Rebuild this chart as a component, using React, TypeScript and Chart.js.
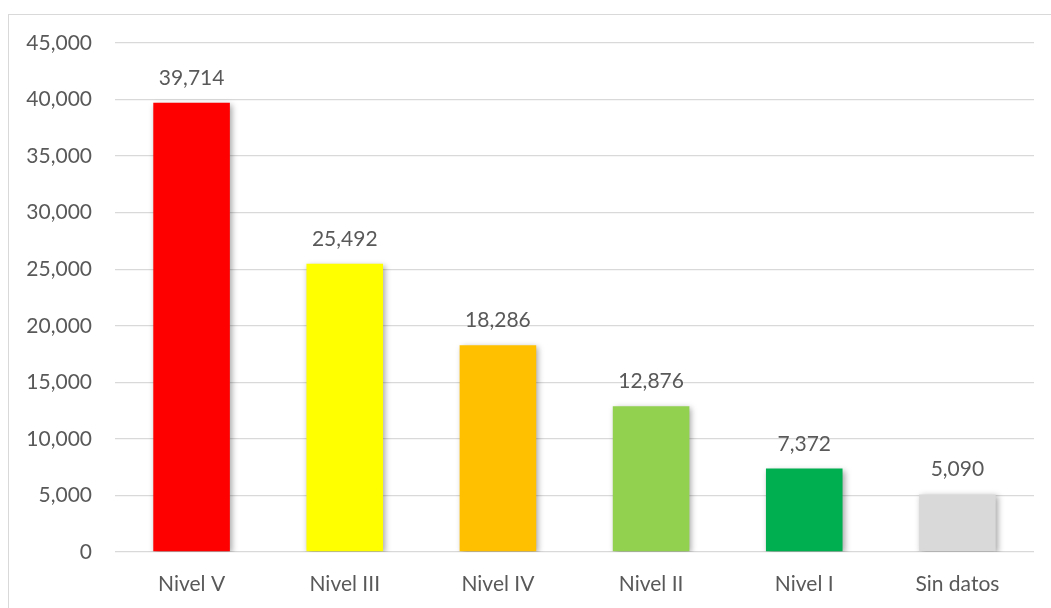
import React, { useEffect, useRef } from "react";
import { Chart, registerables } from "chart.js";

Chart.register(...registerables);

const categories = ["Nivel V", "Nivel III", "Nivel IV", "Nivel II", "Nivel I", "Sin datos"];
const values = [39714, 25492, 18286, 12876, 7372, 5090];
const barColors = ["#FF0000", "#FFFF00", "#FFC000", "#92D050", "#00B050", "#D9D9D9"];

const FONT = "Lato, 'Open Sans', sans-serif";
const TEXT = "#595959";
const fmt = (v: number) => v.toLocaleString("en-US");

// Outer frame of the chart box
const framePlugin = {
  id: "frame",
  beforeDraw(chart: any) {
    const ctx = chart.ctx;
    ctx.save();
    ctx.fillStyle = "#ffffff";
    ctx.fillRect(0, 0, chart.width, chart.height);
    ctx.strokeStyle = "#d9d9d9";
    ctx.lineWidth = 1;
    ctx.strokeRect(8.5, 14.5, chart.width + 10, chart.height + 10);
    ctx.restore();
  },
};

// Soft drop shadow under the bars
const shadowPlugin = {
  id: "barShadow",
  beforeDatasetsDraw(chart: any) {
    const ctx = chart.ctx;
    ctx.save();
    ctx.shadowColor = "rgba(0,0,0,0.35)";
    ctx.shadowBlur = 6;
    ctx.shadowOffsetX = 2;
    ctx.shadowOffsetY = 2;
  },
  afterDatasetsDraw(chart: any) {
    chart.ctx.restore();
  },
};

// Value labels above each bar
const valueLabelPlugin = {
  id: "valueLabels",
  afterDatasetsDraw(chart: any) {
    const ctx = chart.ctx;
    const meta = chart.getDatasetMeta(0);
    const data = chart.data.datasets[0].data as number[];
    ctx.save();
    ctx.fillStyle = TEXT;
    ctx.font = `21px ${FONT}`;
    ctx.textAlign = "center";
    ctx.textBaseline = "alphabetic";
    meta.data.forEach((bar: any, i: number) => {
      ctx.fillText(fmt(data[i]), bar.x, bar.y - 18);
    });
    ctx.restore();
  },
};

export default function App() {
  const ref = useRef<HTMLCanvasElement | null>(null);

  useEffect(() => {
    if (!ref.current) return;
    const chart = new Chart(ref.current, {
      type: "bar",
      data: {
        labels: categories,
        datasets: [
          {
            data: values,
            backgroundColor: barColors,
            borderWidth: 0,
            categoryPercentage: 1,
            barPercentage: 0.5,
          },
        ],
      },
      options: {
        animation: false,
        responsive: false,
        maintainAspectRatio: false,
        layout: { padding: { top: 43, right: 17, left: 0, bottom: 0 } },
        plugins: {
          legend: { display: false },
          tooltip: { enabled: false },
        },
        scales: {
          x: {
            grid: { display: false, drawTicks: false },
            border: { display: false },
            ticks: {
              color: TEXT,
              font: { family: FONT, size: 21 },
              padding: 20,
            },
            afterFit(scale: any) {
              scale.height = 56;
            },
          },
          y: {
            min: 0,
            max: 45000,
            grid: { color: "#d9d9d9", lineWidth: 1.3, drawTicks: false },
            border: { display: false },
            ticks: {
              stepSize: 5000,
              color: TEXT,
              font: { family: FONT, size: 21 },
              padding: 23,
              callback: (v: any) => fmt(Number(v)),
            },
            afterFit(scale: any) {
              scale.width = 115;
            },
          },
        },
      },
      plugins: [framePlugin, shadowPlugin, valueLabelPlugin],
    });
    return () => chart.destroy();
  }, []);

  return (
    <div style={{ position: "fixed", left: 0, top: 0, width: 1051, height: 608, background: "#fff" }}>
      <canvas ref={ref} width={1051} height={608} style={{ display: "block" }} />
    </div>
  );
}
